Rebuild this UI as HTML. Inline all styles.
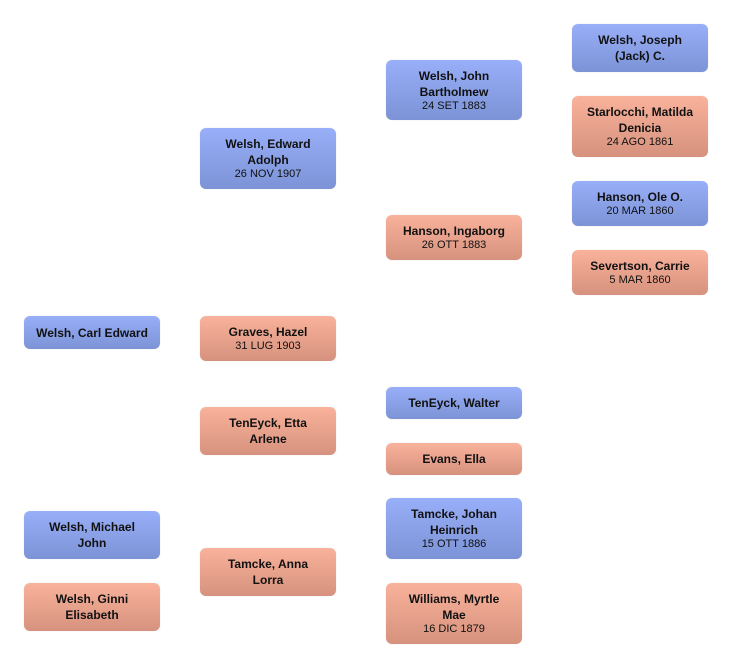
<!DOCTYPE html>
<html><head><meta charset="utf-8"><style>
body{margin:0;width:732px;height:668px;background:#fff;position:relative;overflow:hidden;font-family:"Liberation Sans",sans-serif;}
.b{position:absolute;width:136px;border-radius:6px;display:flex;flex-direction:column;justify-content:center;align-items:center;text-align:center;color:#111;box-sizing:border-box;padding:0 2px;box-shadow:0 0 1px rgba(0,0,0,0.15);white-space:nowrap;}
.m{background:linear-gradient(#98aff9,#7c93d6);}
.f{background:linear-gradient(#f9b29b,#d6927e);}
.n{font-weight:bold;font-size:12px;line-height:16px;}
.d{font-size:11px;line-height:13px;}
</style></head><body>
<div class="b m" style="left:572px;top:24px;height:48px"><div class="n">Welsh, Joseph<br>(Jack) C.</div></div>
<div class="b f" style="left:572px;top:96px;height:61px"><div class="n">Starlocchi, Matilda<br>Denicia</div><div class="d">24 AGO 1861</div></div>
<div class="b m" style="left:572px;top:181px;height:45px"><div class="n">Hanson, Ole O.</div><div class="d">20 MAR 1860</div></div>
<div class="b f" style="left:572px;top:250px;height:45px"><div class="n">Severtson, Carrie</div><div class="d">5 MAR 1860</div></div>
<div class="b m" style="left:386px;top:60px;height:60px"><div class="n">Welsh, John<br>Bartholmew</div><div class="d">24 SET 1883</div></div>
<div class="b f" style="left:386px;top:215px;height:45px"><div class="n">Hanson, Ingaborg</div><div class="d">26 OTT 1883</div></div>
<div class="b m" style="left:386px;top:387px;height:32px"><div class="n">TenEyck, Walter</div></div>
<div class="b f" style="left:386px;top:443px;height:32px"><div class="n">Evans, Ella</div></div>
<div class="b m" style="left:386px;top:498px;height:61px"><div class="n">Tamcke, Johan<br>Heinrich</div><div class="d">15 OTT 1886</div></div>
<div class="b f" style="left:386px;top:583px;height:61px"><div class="n">Williams, Myrtle<br>Mae</div><div class="d">16 DIC 1879</div></div>
<div class="b m" style="left:200px;top:128px;height:61px"><div class="n">Welsh, Edward<br>Adolph</div><div class="d">26 NOV 1907</div></div>
<div class="b f" style="left:200px;top:316px;height:45px"><div class="n">Graves, Hazel</div><div class="d">31 LUG 1903</div></div>
<div class="b f" style="left:200px;top:407px;height:48px"><div class="n">TenEyck, Etta<br>Arlene</div></div>
<div class="b f" style="left:200px;top:548px;height:48px"><div class="n">Tamcke, Anna<br>Lorra</div></div>
<div class="b m" style="left:24px;top:316px;height:33px"><div class="n">Welsh, Carl Edward</div></div>
<div class="b m" style="left:24px;top:511px;height:48px"><div class="n">Welsh, Michael<br>John</div></div>
<div class="b f" style="left:24px;top:583px;height:48px"><div class="n">Welsh, Ginni<br>Elisabeth</div></div>
</body></html>
